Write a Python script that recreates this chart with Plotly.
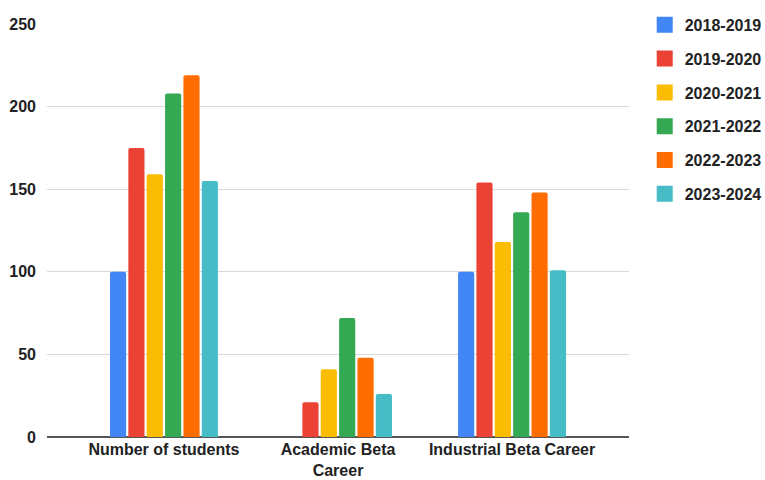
import plotly.graph_objects as go

categories = ["Number of students", "Academic Beta Career", "Industrial Beta Career"]
category_labels = ["Number of students", "Academic Beta<br>Career", "Industrial Beta Career"]
years = ["2018-2019", "2019-2020", "2020-2021", "2021-2022", "2022-2023", "2023-2024"]
values_2018_2019 = [100, 0, 100]
values_2019_2020 = [175, 21, 154]
values_2020_2021 = [159, 41, 118]
values_2021_2022 = [208, 72, 136]
values_2022_2023 = [219, 48, 148]
values_2023_2024 = [155, 26, 101]
series = [values_2018_2019, values_2019_2020, values_2020_2021,
          values_2021_2022, values_2022_2023, values_2023_2024]
colors = ["#4285F4", "#EA4335", "#FBBC04", "#34A853", "#FF6D01", "#46BDC6"]
y_ticks = [0, 50, 100, 150, 200, 250]

font_family = "Liberation Sans, Arial, sans-serif"
text_color = "#222222"

fig = go.Figure()
for i, (name, vals) in enumerate(zip(years, series)):
    # bars (legend handled by square markers below)
    fig.add_trace(go.Bar(
        x=categories, y=vals, name=name,
        marker=dict(color=colors[i], line=dict(width=0)),
        showlegend=False,
    ))
for i, name in enumerate(years):
    # legend swatches
    fig.add_trace(go.Scatter(
        x=[None], y=[None], mode="markers", name=f"<b>{name}</b>",
        marker=dict(symbol="square", size=16, color=colors[i]),
        legendgroup=name, hoverinfo="skip",
    ))

fig.update_layout(
    width=765, height=480,
    margin=dict(l=47, r=136, t=24, b=43.3, autoexpand=False),
    paper_bgcolor="white", plot_bgcolor="white",
    barmode="group", bargap=0.367, bargroupgap=0.12,
    barcornerradius=2,
    font=dict(family=font_family, size=16, color=text_color),
    xaxis=dict(
        type="category", range=[-0.672, 2.672], automargin=False,
        tickvals=categories, ticktext=[f"<b>{t}</b>" for t in category_labels],
        showgrid=False, ticks="", showline=False, zeroline=False,
        ticklabelstandoff=1,
        tickfont=dict(size=16, color=text_color),
    ),
    yaxis=dict(
        range=[0, 250], tickvals=y_ticks, automargin=False,
        ticktext=[f"<b>{v}</b>" for v in y_ticks],
        showgrid=True, gridcolor="#d9d9d9", gridwidth=1,
        zeroline=True, zerolinecolor="#555555", zerolinewidth=1.5,
        ticks="", ticklabelstandoff=10,
        tickfont=dict(size=16, color=text_color),
    ),
    legend=dict(
        x=1.027, y=1.039, xanchor="left", yanchor="top",
        font=dict(size=16, color=text_color, family=font_family),
        tracegroupgap=10, itemwidth=30,
        traceorder="grouped",
    ),
)

fig.write_html("out.html")
